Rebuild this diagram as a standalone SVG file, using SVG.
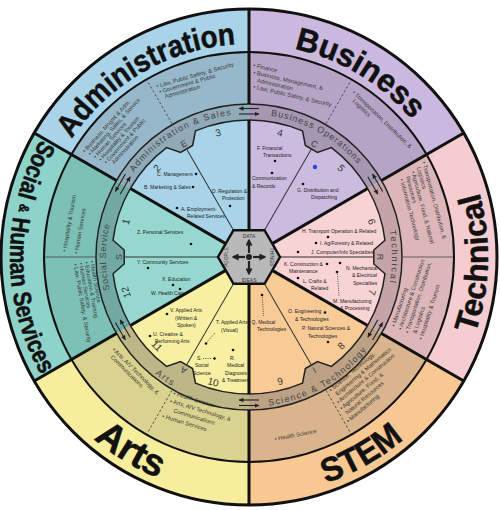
<svg xmlns="http://www.w3.org/2000/svg" width="500" height="510" viewBox="0 0 500 510">
<style>
.big{font-family:"Liberation Sans",Arial,sans-serif;font-weight:bold;fill:#111;stroke:#111;stroke-width:0.5}
.rg{font-family:"Liberation Sans",Arial,sans-serif;font-size:9px;fill:#454545}
.num{font-family:"Liberation Sans",Arial,sans-serif;font-size:10px;fill:#333;text-anchor:middle}
.let{font-family:"Liberation Sans",Arial,sans-serif;font-size:9px;fill:#444;text-anchor:middle}
.cl{font-family:"Liberation Sans",Arial,sans-serif;font-size:5.8px;fill:#3a3a3a}
.in{font-family:"Liberation Sans",Arial,sans-serif;font-size:5px;fill:#222}
.hx{font-family:"Liberation Sans",Arial,sans-serif;font-size:5px;fill:#333;text-anchor:middle}
.dot{fill:#111}
.edge{fill:none;stroke:#222;stroke-width:1.5}
.thin{stroke:#333;stroke-width:1;fill:none}
.dash{stroke:#444;stroke-width:0.8;stroke-dasharray:2.5 2;fill:none}
.sol{stroke:#444;stroke-width:0.8;fill:none}
.dots{stroke:#222;stroke-width:0.8;stroke-dasharray:1 1.3;fill:none}
.div{stroke:#111;stroke-width:3;fill:none}
.ra{stroke:#222;stroke-width:1.1;fill:none}
</style>
<defs>
<marker id="ah" viewBox="0 0 10 10" refX="9" refY="5" markerWidth="5" markerHeight="5" markerUnits="userSpaceOnUse" orient="auto"><path d="M0,0.5 L10,5 L0,9.5 Z" fill="#222"/></marker>
<marker id="hh" viewBox="0 0 10 10" refX="8" refY="5" markerWidth="7" markerHeight="7" markerUnits="userSpaceOnUse" orient="auto"><path d="M0,0 L10,5 L0,10 Z" fill="#222"/></marker>
<path id="outerSeg" d="M-124 -214.77 A248 248 0 0 1 124 -214.77 L102.5 -177.54 A205 205 0 0 0 -102.5 -177.54 Z"/>
<path id="bandSeg" d="M-102.5 -177.54 A205 205 0 0 1 102.5 -177.54 L76.5 -132.5 A153 153 0 0 0 -76.5 -132.5 Z"/>
<path id="ringSeg" d="M0 0 L-76.5 -132.5 A153 153 0 0 1 76.5 -132.5 Z"/>
<path id="innerSeg" d="M0 0 L-68.5 -118.65 A137 137 0 0 1 -16.7 -135.98 L-6.98 -124.8 L6.98 -124.8 L16.7 -135.98 A137 137 0 0 1 68.5 -118.65 Z"/>
<path id="innerEdge" d="M-68.5 -118.65 A137 137 0 0 1 -16.7 -135.98 L-6.98 -124.8 L6.98 -124.8 L16.7 -135.98 A137 137 0 0 1 68.5 -118.65"/>
<path id="midLine" d="M0 -31 V-124.8"/>
<path id="bandLine" d="M0 -154 V-204"/>
<g id="arr"><line x1="10" y1="-148.5" x2="-10" y2="-148.5" marker-end="url(#ah)"/><line x1="-10" y1="-143" x2="10" y2="-143" marker-end="url(#ah)"/></g>
<path id="cw143" d="M249 400 A143 143 0 0 1 249 114 A143 143 0 0 1 249 400"/>
<path id="ccw150" d="M249 107 A150 150 0 0 0 249 407 A150 150 0 0 0 249 107"/>
<path id="cw213" d="M249 470 A213 213 0 0 1 249 44 A213 213 0 0 1 249 470"/>
<path id="ccw239" d="M249 18 A239 239 0 0 0 249 496 A239 239 0 0 0 249 18"/>
</defs>

<g id="admin">
<g transform="translate(249,257) rotate(-30)">
<use href="#outerSeg" fill="#a8d3e8"/><use href="#bandSeg" fill="#97b8ca"/><use href="#ringSeg" fill="#91aab7"/><use href="#innerSeg" fill="#a8d3e8"/><use href="#innerEdge" class="edge"/><use href="#midLine" class="thin"/><use href="#bandLine" class="dash"/>
<text class="let" x="0" y="-127.5">E</text>
</g>
<text class="big" font-size="31" text-anchor="middle"><textPath href="#cw213" startOffset="557.6" textLength="196" lengthAdjust="spacingAndGlyphs">Administration</textPath></text>
<text class="rg" letter-spacing="1.2" text-anchor="middle"><textPath href="#cw143" startOffset="373.7">Administration &amp; Sales</textPath></text>
<text class="num" transform="translate(218,132.8) rotate(-14)" y="3.5">3</text>
<text class="num" transform="translate(156.9,168.1) rotate(-46)" y="3.5">2</text>
<text class="cl" transform="translate(85,153) rotate(-48)"><tspan x="0" y="0">• Business, Mngmt &amp; Adm.</tspan><tspan x="1.5" y="5.9">• Marketing, Sales, &amp; Service</tspan><tspan x="3" y="11.8">• Human Services</tspan><tspan x="4.5" y="17.7">• Hospitality &amp; Tourism</tspan><tspan x="6" y="23.6">• Government &amp; Public</tspan><tspan x="11" y="29.5">Administration</tspan></text>
<text class="cl" transform="translate(157,88) rotate(-16)"><tspan x="0" y="0">• Law, Public Safety, &amp; Security</tspan><tspan x="1" y="6.2">• Government &amp; Public</tspan><tspan x="5" y="12.4">Administration</tspan></text>
<text class="in" x="157" y="176">C. Management</text><circle class="dot" cx="196" cy="174" r="1.3"/>
<text class="in" x="144" y="189">B. Marketing &amp; Sales</text><circle class="dot" cx="193" cy="187" r="1.3"/>
<circle class="dot" cx="177" cy="208" r="1.3"/><text class="in" x="181" y="210.5">A. Employment-</text><text class="in" x="187" y="217.5">Related Services</text>
<text class="in" x="247" y="193" text-anchor="end">D. Regulation &amp;</text><text class="in" x="222" y="200">Protection</text><circle class="dot" cx="230" cy="206" r="1.3"/>
</g>

<g id="business">
<g transform="translate(249,257) rotate(30)">
<use href="#outerSeg" fill="#cbb8de"/><use href="#bandSeg" fill="#b6a4c7"/><use href="#ringSeg" fill="#a697b2"/><use href="#innerSeg" fill="#cabbdf"/><use href="#innerEdge" class="edge"/><use href="#midLine" class="thin"/><use href="#bandLine" class="dash"/>
<text class="let" x="0" y="-127.5">C</text>
</g>
<text class="big" font-size="32" text-anchor="middle"><textPath href="#cw213" startOffset="784.4" textLength="140" lengthAdjust="spacingAndGlyphs">Business</textPath></text>
<text class="rg" letter-spacing="1" text-anchor="middle"><textPath href="#cw143" startOffset="522.1">Business Operations</textPath></text>
<text class="num" transform="translate(280,132.8) rotate(14)" y="3.5">4</text>
<text class="num" transform="translate(341.1,168.1) rotate(46)" y="3.5">5</text>
<text class="cl" transform="translate(253,67) rotate(13)"><tspan x="0" y="0">• Finance</tspan><tspan x="1.6" y="7">• Business, Management, &amp;</tspan><tspan x="7" y="14">Administration</tspan><tspan x="4.8" y="21">• Law, Public Safety, &amp; Security</tspan></text>
<text class="cl" transform="translate(352,93) rotate(44)"><tspan x="0" y="0">• Transportation, Distribution, &amp;</tspan><tspan x="6" y="6">Logistics</tspan></text>
<text class="in" x="257" y="149.5">F. Financial</text><text class="in" x="263" y="157">Transactions</text><circle class="dot" cx="275" cy="161" r="1.3"/>
<circle class="dot" cx="272" cy="173" r="1.3"/><text class="in" x="252" y="180">Communication</text><text class="in" x="252" y="187.5">&amp; Records</text>
<circle class="dot" cx="303" cy="184" r="1.3"/><text class="in" x="297" y="191.5">G. Distribution and</text><text class="in" x="311" y="199">Dispatching</text>
<circle cx="315" cy="167" r="2.2" fill="#2f42e0"/>
</g>

<g id="technical">
<g transform="translate(249,257) rotate(90)">
<use href="#outerSeg" fill="#f5cdd0"/><use href="#bandSeg" fill="#dcb6b9"/><use href="#ringSeg" fill="#c5a4a8"/><use href="#innerSeg" fill="#f7d3d4"/><use href="#innerEdge" class="edge"/><use href="#midLine" class="thin"/><use href="#bandLine" class="sol"/>
<text class="let" x="0" y="-127.5">R</text>
</g>
<text class="big" font-size="32" text-anchor="middle"><textPath href="#ccw239" startOffset="1119.2" textLength="144" lengthAdjust="spacingAndGlyphs">Technical</textPath></text>
<text class="rg" letter-spacing="1.8" text-anchor="middle"><textPath href="#cw143" startOffset="673.9">Technical</textPath></text>
<text class="num" transform="translate(372,221.7) rotate(74)" y="3.5">6</text>
<text class="num" transform="translate(372,292.3) rotate(106)" y="3.5">7</text>
<text class="cl" transform="translate(422,162) rotate(75)"><tspan x="0" y="0">• Transportation, Distribution, &amp;</tspan><tspan x="4" y="6.5">Logistics</tspan><tspan x="6.5" y="13">• Agriculture, Food, &amp; Natural</tspan><tspan x="10" y="19.5">Resources</tspan><tspan x="11" y="26">• Information Technology</tspan></text>
<text class="cl" transform="translate(395,327) rotate(-72)"><tspan x="0" y="0">• Manufacturing</tspan><tspan x="-1" y="7.5">• Architecture &amp; Construction</tspan><tspan x="-2" y="15">• Transportation, Distribution,</tspan><tspan x="0" y="22.5">&amp; Logistics</tspan><tspan x="-4" y="30">• Hospitality &amp; Tourism</tspan></text>
<text class="in" x="302" y="233">H. Transport Operation &amp; Related</text><circle class="dot" cx="328" cy="237" r="1.3"/>
<circle class="dot" cx="316" cy="243" r="1.3"/><text class="in" x="320" y="245">I. Ag/Forestry &amp; Related</text>
<circle class="dot" cx="298" cy="252" r="1.3"/><text class="in" x="311" y="254">J. Computer/Info Specialties</text>
<text class="in" x="284" y="265.5">K. Construction &amp;</text><text class="in" x="289" y="273">Maintenance</text><circle class="dot" cx="327" cy="264" r="1.3"/>
<circle class="dot" cx="298" cy="278" r="1.3"/><text class="in" x="303" y="282.5">L. Crafts &amp;</text><text class="in" x="311" y="289.5">Related</text>
<circle class="dot" cx="340" cy="263" r="1.3"/><text class="in" x="346" y="269.5">N. Mechanical</text><text class="in" x="352" y="277">&amp; Electrical</text><text class="in" x="353" y="284.5">Specialties</text>
<circle class="dot" cx="337" cy="272" r="1.3"/><path class="dots" d="M337.5 274 L339 296"/>
<text class="in" x="333" y="302.5">M. Manufacturing</text><text class="in" x="340" y="310">&amp; Processing</text>
</g>

<g id="stem">
<g transform="translate(249,257) rotate(150)">
<use href="#outerSeg" fill="#f8c893"/><use href="#bandSeg" fill="#d9b48c"/><use href="#ringSeg" fill="#bda184"/><use href="#innerSeg" fill="#f8ca96"/><use href="#innerEdge" class="edge"/><use href="#midLine" class="thin"/><use href="#bandLine" class="dash"/>
<text class="let" x="0" y="-127.5">I</text>
</g>
<text class="big" font-size="34" text-anchor="middle"><textPath href="#ccw239" startOffset="873.9" textLength="90" lengthAdjust="spacingAndGlyphs">STEM</textPath></text>
<text class="rg" letter-spacing="1.4" text-anchor="middle"><textPath href="#ccw150" startOffset="549.1">Science &amp; Technology</textPath></text>
<text class="num" transform="translate(341.1,345.9) rotate(-46)" y="3.5">8</text>
<text class="num" transform="translate(280,381.2) rotate(-14)" y="3.5">9</text>
<text class="cl" transform="translate(331,392) rotate(-40)"><tspan x="0" y="0">• Science, Technology,</tspan><tspan x="2.5" y="7">Engineering &amp; Mathematics</tspan><tspan x="-2" y="14">• Architecture &amp; Construction</tspan><tspan x="-3.5" y="21">• Agriculture, Food, &amp;</tspan><tspan x="-2" y="28">Natural Resources</tspan><tspan x="-6.5" y="35">• Manufacturing</tspan></text>
<text class="cl" transform="translate(275,441) rotate(-11)">• Health Science</text>
<circle class="dot" cx="262" cy="295" r="1.3"/><path class="dots" d="M262.3 297 L263.5 316"/>
<text class="in" x="251.5" y="323.5">Q. Medical</text><text class="in" x="257" y="331">Technologies</text>
<text class="in" x="288" y="313">O. Engineering</text><circle class="dot" cx="325" cy="312.5" r="1.3"/><text class="in" x="295" y="320.5">&amp; Technologies</text>
<text class="in" x="302" y="330">P. Natural Sciences &amp;</text><text class="in" x="308" y="337.5">Technologies</text><circle class="dot" cx="328" cy="342" r="1.3"/>
</g>

<g id="arts">
<g transform="translate(249,257) rotate(210)">
<use href="#outerSeg" fill="#f6ee9d"/><use href="#bandSeg" fill="#dad38f"/><use href="#ringSeg" fill="#bdb686"/><use href="#innerSeg" fill="#f7efa2"/><use href="#innerEdge" class="edge"/><use href="#midLine" class="thin"/><use href="#bandLine" class="dash"/>
<text class="let" x="0" y="-127.5">A</text>
</g>
<text class="big" font-size="38" text-anchor="middle"><textPath href="#ccw239" startOffset="619.4" textLength="76" lengthAdjust="spacingAndGlyphs">Arts</textPath></text>
<text class="rg" letter-spacing="1.5" text-anchor="middle"><textPath href="#ccw150" startOffset="380.4">Arts</textPath></text>
<text class="num" transform="translate(213.2,382) rotate(14)" y="3.5">10</text>
<text class="num" transform="translate(156.9,345.9) rotate(46)" y="3.5">11</text>
<text class="cl" transform="translate(173,395) rotate(17)"><tspan x="0" y="0">• Health Science</tspan><tspan x="-1" y="8.3">• Arts, A/V Technology, &amp;</tspan><tspan x="5" y="16.6">Communications</tspan><tspan x="-4" y="25">• Human Services</tspan></text>
<text class="cl" transform="translate(112,350) rotate(45)"><tspan x="0" y="0">• Arts, A/V Technology, &amp;</tspan><tspan x="4" y="6.5">Communications</tspan></text>
<circle class="dot" cx="167" cy="314" r="1.3"/><text class="in" x="170" y="312">V. Applied Arts</text><text class="in" x="175" y="319.5">(Written &amp;</text><text class="in" x="177" y="327">Spoken)</text>
<circle class="dot" cx="150" cy="336" r="1.3"/><text class="in" x="153" y="335.5">U. Creative &amp;</text><text class="in" x="155" y="343">Performing Arts</text>
<text class="in" x="216" y="324">T. Applied Arts</text><text class="in" x="221" y="331.5">(Visual)</text>
<path class="dots" d="M215 333 L207 342"/><circle class="dot" cx="206" cy="343.5" r="1.3"/>
<text class="in" x="197" y="360">S.</text><path class="dots" d="M203 358.5 H212"/><circle class="dot" cx="214.5" cy="358.5" r="1.3"/>
<text class="in" x="195" y="367">Social</text><text class="in" x="193" y="374.5">Science</text>
<circle class="dot" cx="233" cy="350" r="1.3"/><text class="in" x="230" y="359.5">R.</text><text class="in" x="227" y="367">Medical</text><text class="in" x="225" y="374.5">Diagnosis</text><text class="in" x="222" y="382">&amp; Treatment</text>
</g>

<g id="social">
<g transform="translate(249,257) rotate(-90)">
<use href="#outerSeg" fill="#8dd3c9"/><use href="#bandSeg" fill="#7cc0b6"/><use href="#ringSeg" fill="#72aaa3"/><use href="#innerSeg" fill="#96d8cf"/><use href="#innerEdge" class="edge"/><use href="#midLine" class="thin"/><use href="#bandLine" class="sol"/>
<text class="let" x="0" y="-127.5">S</text>
</g>
<text class="big" font-size="25" text-anchor="middle"><textPath href="#ccw239" startOffset="375.4" textLength="246" lengthAdjust="spacingAndGlyphs">Social <tspan font-size="14" baseline-shift="4">&amp;</tspan> Human Services</textPath></text>
<text class="rg" letter-spacing="0.7" text-anchor="middle"><textPath href="#cw143" startOffset="224.6">Social Service</textPath></text>
<text class="num" transform="translate(126,292.3) rotate(-106)" y="3.5">12</text>
<text class="num" transform="translate(126,221.7) rotate(-74)" y="3.5">1</text>
<text class="cl" transform="translate(66,252) rotate(-80)"><tspan x="0" y="0">• Hospitality &amp; Tourism</tspan><tspan x="0" y="12">• Human Services</tspan></text>
<text class="cl" transform="translate(90,261) rotate(80)"><tspan x="0" y="0">• Health Science</tspan><tspan x="0" y="5.6">• Education &amp; Training</tspan><tspan x="0" y="11.2">• Human Services</tspan><tspan x="0" y="16.8">• Law, Public Safety, &amp; Security</tspan></text>
<text class="in" x="137" y="234">Z. Personal Services</text><circle class="dot" cx="191" cy="244" r="1.3"/>
<text class="in" x="137" y="264">Y. Community Services</text><circle class="dot" cx="148" cy="268" r="1.3"/>
<text class="in" x="162" y="281">X. Education</text><circle class="dot" cx="173" cy="285" r="1.3"/><circle class="dot" cx="180" cy="289" r="1.3"/>
<text class="in" x="151" y="295">W. Health Care</text>
</g>

<g id="connectors">
<circle cx="249" cy="257" r="248" fill="none" stroke="#111" stroke-width="3"/>
<circle cx="249" cy="257" r="205" fill="none" stroke="#111" stroke-width="2"/>
<circle cx="249" cy="257" r="153" fill="none" stroke="#222" stroke-width="1.5"/>
<path class="div" d="M249 230.15 V120 M249 104 V9 M272.25 243.58 L367.64 188.5 M381.5 180.5 L463.77 133 M272.25 270.42 L367.64 325.5 M381.5 333.5 L463.77 381 M249 283.85 V394 M249 410 V505 M225.75 270.42 L130.36 325.5 M116.5 333.5 L34.23 381 M225.75 243.58 L130.36 188.5 M116.5 180.5 L34.23 133"/>
<g class="ra">
<use href="#arr" transform="translate(249,257)"/>
<use href="#arr" transform="translate(249,257) rotate(60)"/>
<use href="#arr" transform="translate(249,257) rotate(120)"/>
<use href="#arr" transform="translate(249,257) rotate(180)"/>
<use href="#arr" transform="translate(249,257) rotate(240)"/>
<use href="#arr" transform="translate(249,257) rotate(300)"/>
</g>
</g>

<g id="hub">
<polygon points="280,257 264.5,230.15 233.5,230.15 218,257 233.5,283.85 264.5,283.85" fill="#b9b9b9" stroke="#111" stroke-width="2.5"/>
<line x1="249" y1="253" x2="249" y2="240" stroke="#222" stroke-width="2.2" marker-end="url(#hh)"/>
<line x1="249" y1="261" x2="249" y2="274" stroke="#222" stroke-width="2.2" marker-end="url(#hh)"/>
<line x1="245" y1="257" x2="233" y2="257" stroke="#222" stroke-width="2.2" marker-end="url(#hh)"/>
<line x1="253" y1="257" x2="265" y2="257" stroke="#222" stroke-width="2.2" marker-end="url(#hh)"/>
<circle cx="249" cy="257" r="3" fill="#222"/>
<text class="hx" x="249" y="237.5">DATA</text>
<text class="hx" x="249" y="281.5">IDEAS</text>
<text class="hx" transform="translate(226.5,257) rotate(-90)" y="1.8">PEOPLE</text>
<text class="hx" transform="translate(271.5,257) rotate(90)" y="1.8">THINGS</text>
</g>
</svg>
